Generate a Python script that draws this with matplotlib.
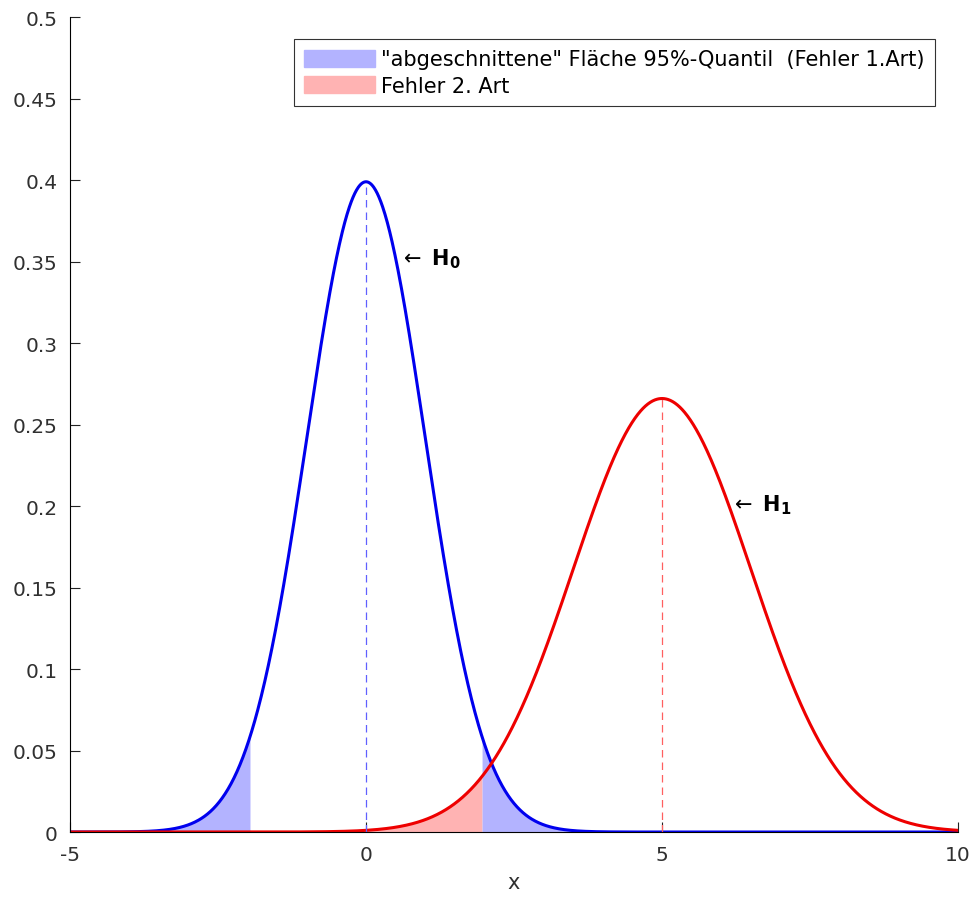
import numpy as np
import matplotlib.pyplot as plt
from matplotlib.patches import Patch

# Verteilungen unter H0 und H1
mu_h0, sd_h0 = 0.0, 1.0
mu_h1, sd_h1 = 5.0, 1.5
quantil = 1.96          # Grenze fuer 95%
x_range = (-5, 10)
y_ticks = [0, 0.05, 0.1, 0.15, 0.2, 0.25, 0.3, 0.35, 0.4, 0.45, 0.5]
x_ticks = [-5, 0, 5, 10]
legend_labels = ['"abgeschnittene" Fläche 95%-Quantil  (Fehler 1.Art)',
                 'Fehler 2. Art']

blue_fill = (0.7, 0.7, 1.0)
red_fill = (1.0, 0.7, 0.7)
txt_color = '#303030'


def pdf(x, mu, sd):
    return np.exp(-0.5 * ((x - mu) / sd) ** 2) / (sd * np.sqrt(2 * np.pi))


x = np.linspace(x_range[0], x_range[1], 1501)
y0 = pdf(x, mu_h0, sd_h0)
y1 = pdf(x, mu_h1, sd_h1)

fig = plt.figure(figsize=(9.74, 9.03), dpi=100)
ax = fig.add_axes([0.0719, 0.0775, 0.9117, 0.9025])

# Flaechen
links = x <= -quantil
rechts = x >= quantil
ax.fill_between(x[links], 0, y0[links], color=blue_fill, lw=0)
ax.fill_between(x[x <= quantil], 0, y1[x <= quantil], color=red_fill, lw=0)
ax.fill_between(x[rechts], 0, y0[rechts], color=blue_fill, lw=0)

# Dichten
ax.plot(x, y0, color='#0000ee', lw=2.2)
ax.plot(x, y1, color='#ee0000', lw=2.2)

# Erwartungswerte
ax.plot([mu_h0, mu_h0], [0, pdf(mu_h0, mu_h0, sd_h0)], '--', color='#6060ff',
        lw=0.9, dashes=(6, 4))
ax.plot([mu_h1, mu_h1], [0, pdf(mu_h1, mu_h1, sd_h1)], '--', color='#ff6060',
        lw=0.9, dashes=(6, 4))

ax.text(0.55, 0.352, r'$\leftarrow\ \mathbf{H}_\mathbf{0}$', fontsize=15, va='center')
ax.text(6.15, 0.201, r'$\leftarrow\ \mathbf{H}_\mathbf{1}$', fontsize=15, va='center')

ax.set_xlim(*x_range)
ax.set_ylim(0, 0.5)
ax.set_xticks(x_ticks)
ax.set_xticklabels([str(t) for t in x_ticks])
ax.set_yticks(y_ticks)
ax.set_yticklabels(['0'] + ['%g' % t for t in y_ticks[1:]])
ax.tick_params(direction='in', length=7, labelsize=14.5, colors='#222222',
               labelcolor=txt_color, pad=9)
ax.spines['top'].set_visible(False)
ax.spines['right'].set_visible(False)
ax.set_xlabel('x', fontsize=15, color=txt_color, labelpad=6)

handles = [Patch(color=blue_fill), Patch(color=red_fill)]
leg = ax.legend(handles, legend_labels, loc='upper right', bbox_to_anchor=(0.974, 0.973),
                fontsize=15, frameon=True, fancybox=False, edgecolor='black',
                handlelength=3.4, handleheight=0.85, handletextpad=0.3,
                borderpad=0.5, labelspacing=0.3, borderaxespad=0)
leg.get_frame().set_linewidth(0.8)

fig.savefig('out.png', dpi=100)
